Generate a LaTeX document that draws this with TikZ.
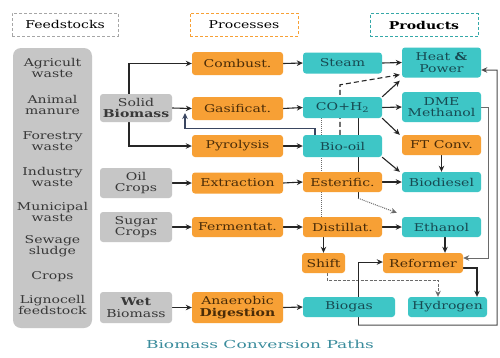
\documentclass[tikz,border=0pt]{standalone}
\usepackage{fontspec}
\setmainfont{DejaVu Serif}[FakeStretch=1.3]
\newfontfamily\capfont{DejaVu Serif}[FakeStretch=1.55]
\usetikzlibrary{arrows.meta,backgrounds,calc}
\definecolor{orfill}{HTML}{F7A035}
\definecolor{tlfill}{HTML}{3EC6C6}
\definecolor{gyfill}{HTML}{C6C6C6}
\definecolor{ortext}{HTML}{4A2C08}
\definecolor{tltext}{HTML}{174A52}
\definecolor{gytext}{HTML}{383838}
\definecolor{lncol}{HTML}{262626}
\definecolor{thincol}{HTML}{6A6A6A}
\definecolor{capcol}{HTML}{3A8C9C}
\definecolor{recol}{HTML}{3A4660}
\begin{document}
\begin{tikzpicture}[x=1pt,y=-1pt,
  every node/.style={font=\fontsize{10.8}{11.3}\selectfont, align=center, inner sep=1pt},
  bx/.style={rounded corners=3pt},
  orbox/.style={bx, fill=orfill, text=ortext},
  tlbox/.style={bx, fill=tlfill, text=tltext},
  gybox/.style={bx, fill=gyfill, text=gytext},
  hdr/.style={draw=#1, densely dashed, line width=0.9pt, minimum width=106pt, minimum height=23pt, text=black},
  arr/.style={-{Stealth[length=6pt,width=5.5pt]}, line width=1.1pt, draw=lncol},
  thinarr/.style={-{Stealth[length=6pt,width=5.5pt]}, line width=0.8pt, draw=thincol},
  dasharr/.style={-{Stealth[length=6pt,width=5.5pt]}, line width=1.1pt, draw=lncol, dash pattern=on 5pt off 3pt},
  dotarr/.style={-{Stealth[length=6pt,width=5.5pt]}, line width=1pt, draw=thincol, densely dotted},
  dotline/.style={line width=1pt, draw=thincol, densely dotted},
  plainline/.style={line width=0.9pt, draw=lncol}]
\useasboundingbox (0,0) rectangle (500,357);

% headers
\node[hdr=gray!70] (hfeed) at (65,24.5) {Feedstocks};
\node[hdr=orfill, minimum width=108pt] (hproc) at (244,24.5) {Processes};
\node[hdr=tlfill!85!black, minimum width=108pt] (hprod) at (424,25) {\textbf{Products}};

% feedstock column
\node[gybox, rounded corners=8pt, minimum width=79pt, minimum height=280pt] (feed) at (52.5,188) {};
\node[text=gytext] (f1) at (52.5,68) {Agricult\\waste};
\node[text=gytext] (f2) at (52.5,105) {Animal\\manure};
\node[text=gytext] (f3) at (52.5,141) {Forestry\\waste};
\node[text=gytext] (f4) at (52.5,177) {Industry\\waste};
\node[text=gytext] (f5) at (52.5,212) {Municipal\\waste};
\node[text=gytext] (f6) at (52.5,246) {Sewage\\sludge};
\node[text=gytext] (f7) at (52.5,277) {Crops};
\node[text=gytext] (f8) at (52.5,305) {Lignocell\\feedstock};

% input boxes
\node[gybox, minimum width=72pt, minimum height=28pt] (solid) at (136,108) {Solid\\\textbf{Biomass}};
\node[gybox, minimum width=72pt, minimum height=30pt] (oil) at (136,183) {Oil\\Crops};
\node[gybox, minimum width=72pt, minimum height=30pt] (sugar) at (136,227) {Sugar\\Crops};
\node[gybox, minimum width=72pt, minimum height=31pt] (wet) at (136,307.5) {\textbf{Wet}\\Biomass};

% processes
\node[orbox, minimum width=91pt, minimum height=23pt] (combust) at (237.5,63.5) {Combust.};
\node[orbox, minimum width=91pt, minimum height=23pt] (gasif) at (237.5,108.5) {Gasificat.};
\node[orbox, minimum width=91pt, minimum height=22pt] (pyro) at (237.5,146) {Pyrolysis};
\node[orbox, minimum width=91pt, minimum height=21pt] (extract) at (237.5,183) {Extraction};
\node[orbox, minimum width=91pt, minimum height=20pt] (ferment) at (237.5,227) {Fermentat.};
\node[orbox, minimum width=91pt, minimum height=31pt] (anaer) at (237.5,307.5) {Anaerobic\\\textbf{Digestion}};

% middle column
\node[tlbox, minimum width=79pt, minimum height=21pt] (steam) at (342.5,63) {Steam};
\node[tlbox, minimum width=79pt, minimum height=21pt] (coh) at (342.5,107.5) {CO+H\textsubscript{2}};
\node[tlbox, minimum width=79pt, minimum height=22pt] (biooil) at (342.5,146) {Bio-oil};
\node[orbox, minimum width=79pt, minimum height=20pt] (ester) at (342.5,182) {Esterific.};
\node[orbox, minimum width=79pt, minimum height=20pt] (distil) at (342.5,227) {Distillat.};
\node[orbox, minimum width=43pt, minimum height=20pt] (shift) at (323.5,263) {Shift};
\node[tlbox, minimum width=92pt, minimum height=20pt] (biogas) at (349,307) {Biogas};

% products column
\node[tlbox, minimum width=79pt, minimum height=30pt] (heat) at (441.5,62.5) {Heat \textbf{\&}\\Power};
\node[tlbox, minimum width=79pt, minimum height=30pt] (dme) at (441.5,107) {DME\\Methanol};
\node[orbox, minimum width=79pt, minimum height=20pt] (ft) at (441.5,145) {FT Conv.};
\node[tlbox, minimum width=79pt, minimum height=20pt] (biodiesel) at (441.5,182) {Biodiesel};
\node[tlbox, minimum width=79pt, minimum height=20pt] (ethanol) at (441.5,227) {Ethanol};
\node[orbox, minimum width=80pt, minimum height=20pt] (reformer) at (423,263) {Reformer};
\node[tlbox, minimum width=79pt, minimum height=20pt] (hydrogen) at (447.5,307) {Hydrogen};

% caption
\node[font=\capfont\fontsize{11}{13}\selectfont, text=capcol] (cap) at (260,344) {Biomass Conversion Paths};

\coordinate (rcy) at (185,113);
\coordinate (rc) at (497,325);

\begin{scope}[on background layer]
\fill[white] (0,0) rectangle (500,357);
% feed to processes
\draw[arr] ([xshift=-7pt]solid.north) |- (combust.west);
\draw[arr] ([xshift=-7pt]solid.south) |- (pyro.west);
\draw[arr] (solid.east) -- (gasif.west);
\draw[arr] (oil.east) -- (extract.west);
\draw[arr] (sugar.east) -- (ferment.west);
\draw[arr] (wet.east) -- (anaer.west);
% processes to intermediates
\draw[arr] (combust.east) -- (steam.west);
\draw[arr] (gasif.east) -- (coh.west);
\draw[arr] (pyro.east) -- (biooil.west);
\draw[arr] (extract.east) -- (ester.west);
\draw[arr] (ferment.east) -- (distil.west);
\draw[arr] (anaer.east) -- (biogas.west);
% recycle bio-oil to gasification
\draw[-{Stealth[length=6pt,width=5.5pt]}, line width=1.1pt, draw=recol] ([xshift=-27.5pt]biooil.north) -- ++(0,-6) -| (rcy);
% intermediates to products
\draw[arr] (steam.east) -- (heat.west);
\draw[arr] (coh.east) -- (dme.west);
\draw[arr] (coh.north east) -- ([xshift=-2pt,yshift=-3pt]heat.south west);
\draw[arr] (coh.south east) -- ([xshift=-2pt]ft.north west);
\draw[arr] (biooil.south east) -- ([xshift=-2pt]biodiesel.north west);
\draw[dasharr] ([xshift=-2.5pt]biooil.north) -- ++(0,-50) -- ([xshift=-2pt,yshift=3pt]heat.south west);
\draw[dotline] ([xshift=-21.5pt]coh.south) -- ([xshift=-21.5pt]distil.north);
\draw[plainline] ([xshift=15.5pt]coh.south) -- ([xshift=15.5pt,yshift=-6pt]ester.south);
\draw[dotarr] ([xshift=15.5pt,yshift=-6pt]ester.south) -- ([xshift=-5pt,yshift=4pt]ethanol.north west);
\draw[arr] (ft.south) -- (biodiesel.north);
\draw[arr] (ester.east) -- (biodiesel.west);
\draw[arr] (distil.east) -- (ethanol.west);
\draw[arr] (shift.north |- distil.south) -- (shift.north);
\draw[arr] ([xshift=3.5pt]ethanol.south) -- ([xshift=3.5pt]ethanol.south |- reformer.north);
\draw[thinarr] (dme.east) -- ++(7,0) |- ([yshift=5pt]reformer.east);
\draw[arr] ([yshift=-5pt]reformer.east) -| ([xshift=29.5pt]hydrogen.north);
\draw[dasharr, draw=thincol, line width=1pt, dash pattern=on 3pt off 1.5pt] ([xshift=3.5pt]shift.south) -- ++(0,7) -| ([xshift=-9.5pt]hydrogen.north);
\draw[arr, line width=1pt] ([xshift=9pt,yshift=-8pt]biogas.south) |- ([yshift=1pt]reformer.west);
\draw[arr, line width=1pt, draw=thincol!70!black] ([xshift=9pt,yshift=-8pt]biogas.south) -- (rc) |- ([yshift=-7.5pt]heat.east);
\end{scope}
\end{tikzpicture}
\end{document}
